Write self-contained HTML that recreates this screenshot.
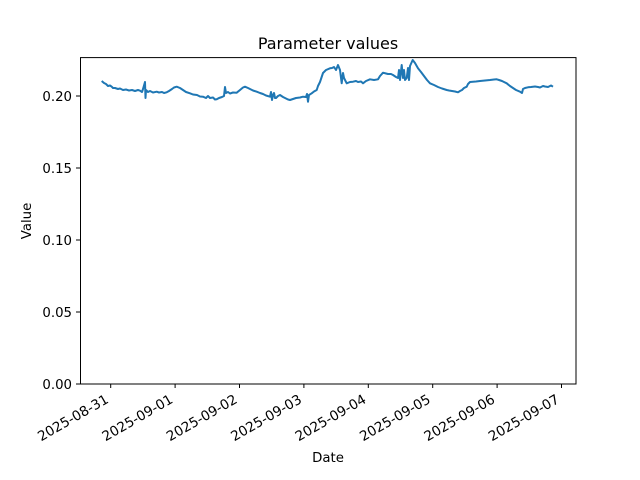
<!DOCTYPE html>
<html><head><style>body{margin:0;background:#fff}svg{display:block}text{font-family:"DejaVu Sans","Liberation Sans",sans-serif;fill:#000}</style></head>
<body>
<svg width="640" height="480" viewBox="0 0 640 480">
<text x="328" y="49" font-size="16" text-anchor="middle">Parameter values</text>
<polyline fill="none" stroke="#1f77b4" stroke-width="2" stroke-linejoin="round" points="101.7,81 104,83 106,84 108,86 110,85.5 111.7,86.7 113,88 115,88 118,89 120,88.5 123,90 126,89.5 129,90.5 132,90 135,91 138,90 140,90.7 142,92 143,89 145,82 145.5,98 146,90 148,92 150,91 153,92.5 156.7,91.7 159,92.5 162,92 164,93 166.7,92.3 169,91 172,89 174,87.5 176.7,86.7 180,88 183,90 186,92 190,93.3 193,94.5 197,95 200,96.5 203,96.7 206,98 208,96 210,98 213,97.5 215,99.5 216.7,99.3 219,98 222,97 224,96 225,87 226,93 228,92 230,93.5 233,92.5 236.7,92.7 240,90 243,87.5 245,86.7 248,88 250,89 253,90.5 256.7,91.7 260,93 263,94 266,95.5 270,96.7 271,92 272,100 273,95 274,93 275,98 276,98 278,96 280,95 283,97 285,98 288,99.5 290,100 293,99 296,98 300,97.5 303,96.7 306,97 307,94 308,101.7 309,95 311.7,93.3 314,91.5 316.7,90 318,86 320,82 323,73 326,70 330,68.3 332,68 334,67 336,70 338,65 340,70 341.7,83.3 343,73 344,78 346.7,83.3 350,82 353,81.7 356,81 358,82 361,81.5 363,83.3 366,81 370,79.3 374,80 378,79.3 380,76 383,72.7 386,73.5 388,74 391,74 393,75 396,77 398,78 399,70 400,80 401.7,65 403,78 404,70 405,80 406.7,78 408,68 409,80 410,66 412.7,60 415,63 418,68.3 421,72 424,76 427,80 430,83.3 434,85 438,87 442,88.5 446.7,90 449,90.5 452,91 455,91.5 458,92.3 460,91 462,90 464,88 466.7,86.7 468,84 470,82 473,81.7 476,81.5 480,81 485,80.5 490,80 494,79.5 496.7,79.3 499,80 502,81 504,82 506.7,83.3 510,86 513,88 516,90 520,91.7 522,93 523,89 525,88 528,87.3 531,87 535,86.5 538,87 540,87.5 543,86 545,86.5 548,87 550,86 551,85.5 553,86.7"/>
<rect x="80.5" y="57.6" width="495.5" height="326.4" fill="none" stroke="#000" stroke-width="1"/>
<g stroke="#000" stroke-width="1">
<line x1="76" y1="384" x2="80" y2="384"/><line x1="76" y1="312" x2="80" y2="312"/><line x1="76" y1="240" x2="80" y2="240"/><line x1="76" y1="168" x2="80" y2="168"/><line x1="76" y1="96" x2="80" y2="96"/>
<line x1="110.7" y1="384" x2="110.7" y2="388"/><line x1="175.1" y1="384" x2="175.1" y2="388"/><line x1="239.5" y1="384" x2="239.5" y2="388"/><line x1="303.9" y1="384" x2="303.9" y2="388"/><line x1="368.3" y1="384" x2="368.3" y2="388"/><line x1="432.7" y1="384" x2="432.7" y2="388"/><line x1="497.1" y1="384" x2="497.1" y2="388"/><line x1="561.5" y1="384" x2="561.5" y2="388"/>
</g>
<g font-size="13.3" text-anchor="end">
<text x="72" y="389">0.00</text><text x="72" y="317">0.05</text><text x="72" y="245">0.10</text><text x="72" y="173">0.15</text><text x="72" y="101">0.20</text>
</g>
<g font-size="13.6" text-anchor="end">
<text transform="translate(109.5,402) rotate(-30)">2025-08-31</text>
<text transform="translate(173.9,402) rotate(-30)">2025-09-01</text>
<text transform="translate(238.3,402) rotate(-30)">2025-09-02</text>
<text transform="translate(302.7,402) rotate(-30)">2025-09-03</text>
<text transform="translate(367.1,402) rotate(-30)">2025-09-04</text>
<text transform="translate(431.5,402) rotate(-30)">2025-09-05</text>
<text transform="translate(495.9,402) rotate(-30)">2025-09-06</text>
<text transform="translate(560.3,402) rotate(-30)">2025-09-07</text>
</g>
<text x="328" y="462" font-size="13.3" text-anchor="middle">Date</text>
<text transform="translate(31,221) rotate(-90)" font-size="13.3" text-anchor="middle">Value</text>
</svg>
</body></html>
